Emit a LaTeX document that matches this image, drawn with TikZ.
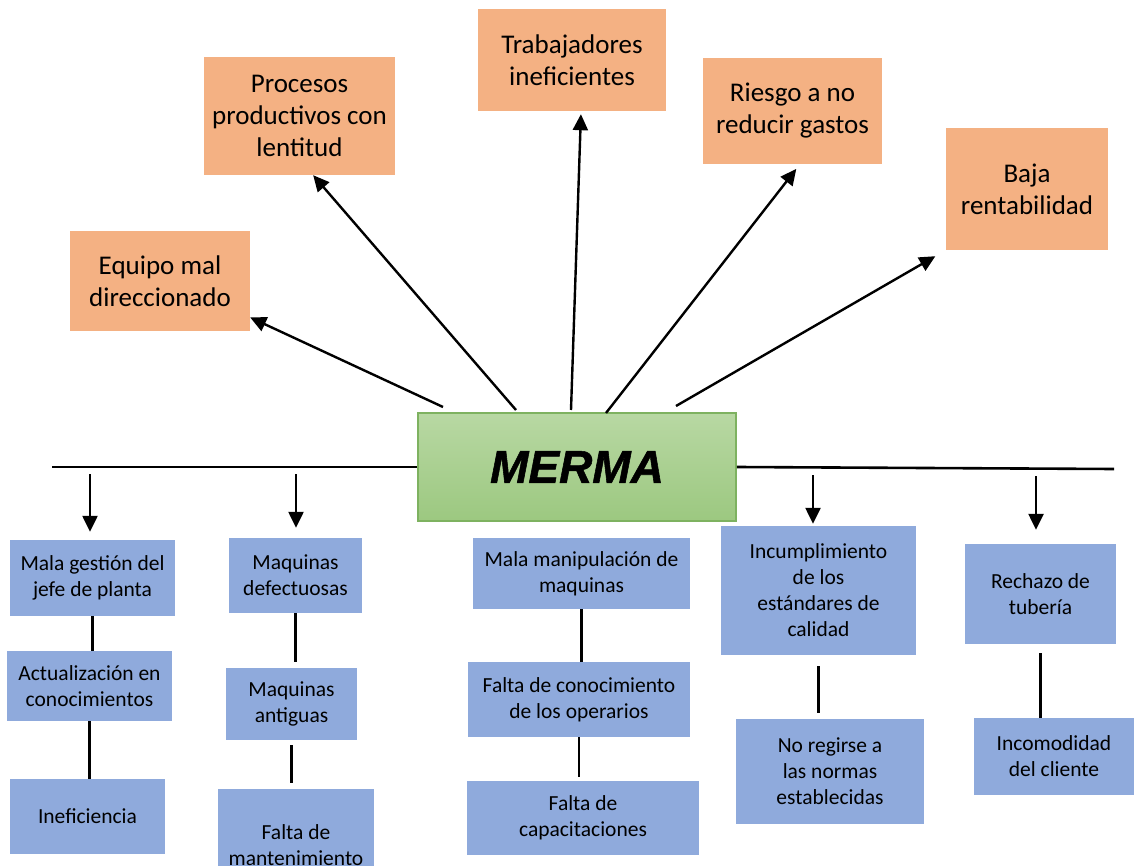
\documentclass[tikz,border=0pt]{standalone}
\usepackage{fontspec}
\setmainfont{Carlito}
\newfontfamily\mermafont{Liberation Sans}[BoldItalicFeatures={FakeBold=1.2}]
\usepackage{tikz}
\usetikzlibrary{calc}
\usetikzlibrary{arrows.meta}
\definecolor{EffOrange}{RGB}{244,177,131}
\definecolor{CauseBlue}{RGB}{143,170,220}
\definecolor{MermaTop}{RGB}{184,216,163}
\definecolor{MermaBot}{RGB}{156,200,128}
\definecolor{MermaEdge}{RGB}{126,178,96}
\tikzset{
  obox/.style={fill=EffOrange,inner sep=0pt,align=center,font=\fontsize{27}{32}\selectfont},
  bbox/.style={fill=CauseBlue,inner sep=0pt,align=center,font=\fontsize{21.5}{26}\selectfont},
  core/.style={draw=MermaEdge,line width=1.5pt,top color=MermaTop,bottom color=MermaBot,inner sep=0pt,
    minimum width=318pt,minimum height=108pt,font=\mermafont\bfseries\itshape\fontsize{46}{50}\selectfont},
}
\tikzset{arr/.style={draw=black,line width=2.4pt,-{Triangle[length=16pt,width=15pt]}}, link/.style={draw=black,line width=2.6pt}}

\begin{document}
\begin{tikzpicture}[x=1pt,y=-1pt]
\clip (0,0) rectangle (1135,866);
\coordinate (hl) at (52,467);
\coordinate (hr) at (1114,469);
\coordinate (d1) at (90,474);
\coordinate (d2) at (296,474);
\coordinate (d3) at (813,475);
\coordinate (d4) at (1036,476);
\coordinate (s1) at (443,407);
\coordinate (s2) at (516,410);
\coordinate (s3) at (571,410);
\coordinate (s4) at (606,413);
\coordinate (s5) at (676,406);
\node[core] (merma) at (577,467) {MERMA};
\node[obox,minimum width=180pt,minimum height=100pt] (equipo) at (160,281) {Equipo mal\\direccionado};
\node[obox,minimum width=191pt,minimum height=118pt] (procesos) at (299.5,116) {Procesos\\productivos con\\lentitud};
\node[obox,minimum width=188pt,minimum height=102pt] (trabaj) at (572,60) {Trabajadores\\ineficientes};
\node[obox,minimum width=179pt,minimum height=106pt] (riesgo) at (792.5,111) {Riesgo a no\\reducir gastos};
\node[obox,minimum width=162pt,minimum height=122pt] (baja) at (1027,189) {Baja\\rentabilidad};
\node[bbox,minimum width=165pt,minimum height=76pt] (gestion) at (92.5,578) {Mala gestión del\\jefe de planta};
\node[bbox,minimum width=165pt,minimum height=70pt] (actual) at (89.5,686) {Actualización en\\conocimientos};
\node[bbox,minimum width=155pt,minimum height=75pt] (inef) at (87.5,816.5) {Ineficiencia};
\node[bbox,minimum width=133pt,minimum height=75pt] (defect) at (295.5,575.5) {Maquinas\\defectuosas};
\node[bbox,minimum width=131pt,minimum height=72pt] (antig) at (291.5,704) {Maquinas\\antiguas};
\node[bbox,minimum width=156pt,minimum height=112pt] (mantto) at (296,845) {Falta de\\mantenimiento};
\node[bbox,minimum width=217pt,minimum height=71pt] (manip) at (581.5,573.5) {Mala manipulación de\\maquinas};
\node[bbox,minimum width=222pt,minimum height=75pt] (conoc) at (579,699.5) {Falta de conocimiento\\de los operarios};
\node[bbox,minimum width=232pt,minimum height=74pt] (capac) at (583,818) {Falta de\\capacitaciones};
\node[bbox,minimum width=195pt,minimum height=129pt] (incump) at (818.5,590.5) {Incumplimiento\\de los\\estándares de\\calidad};
\node[bbox,minimum width=188pt,minimum height=105pt] (normas) at (830,771.5) {No regirse a\\las normas\\establecidas};
\node[bbox,minimum width=151pt,minimum height=100pt] (rechazo) at (1040.5,594) {Rechazo de\\tubería};
\node[bbox,minimum width=160pt,minimum height=77pt] (cliente) at (1054,756.5) {Incomodidad\\del cliente};
\draw[link] (hl) -- (merma.west);
\draw[link] (merma.east) -- (hr);
\draw[arr] (s1) -- (equipo.-22);
\draw[arr] (s2) -- (procesos.-77);
\draw[arr,shorten >=3pt] (s3) -- (trabaj.-80);
\draw[arr,shorten >=6pt] (s4) -- (riesgo.-82);
\draw[arr,shorten >=12pt] (s5) -- (baja.south west);
\draw[arr,shorten >=8pt] (d1) -- (d1 |- gestion.north);
\draw[arr,shorten >=10pt] (d2) -- (d2 |- defect.north);
\draw[arr,shorten >=2pt] (d3) -- (d3 |- incump.north);
\draw[arr,shorten >=14pt] (d4) -- (d4 |- rechazo.north);
\draw[link] (gestion.south) -- (gestion.south |- actual.north);
\draw[link] (actual.south) -- (actual.south |- inef.north);
\draw[link,shorten >=6pt] (defect.south) -- (defect.south |- antig.north);
\draw[link,shorten <=5pt,shorten >=6pt] (antig.south) -- (antig.south |- mantto.north);
\draw[link] (manip.south) -- (manip.south |- conoc.north);
\draw[link,shorten >=4pt] (conoc.south) -- (conoc.south |- capac.north);
\draw[link,shorten <=11pt,shorten >=6pt] (incump.south) -- (incump.south |- normas.north);
\draw[link,shorten <=9pt] (rechazo.south) -- (rechazo.south |- cliente.north);
\end{tikzpicture}
\end{document}
